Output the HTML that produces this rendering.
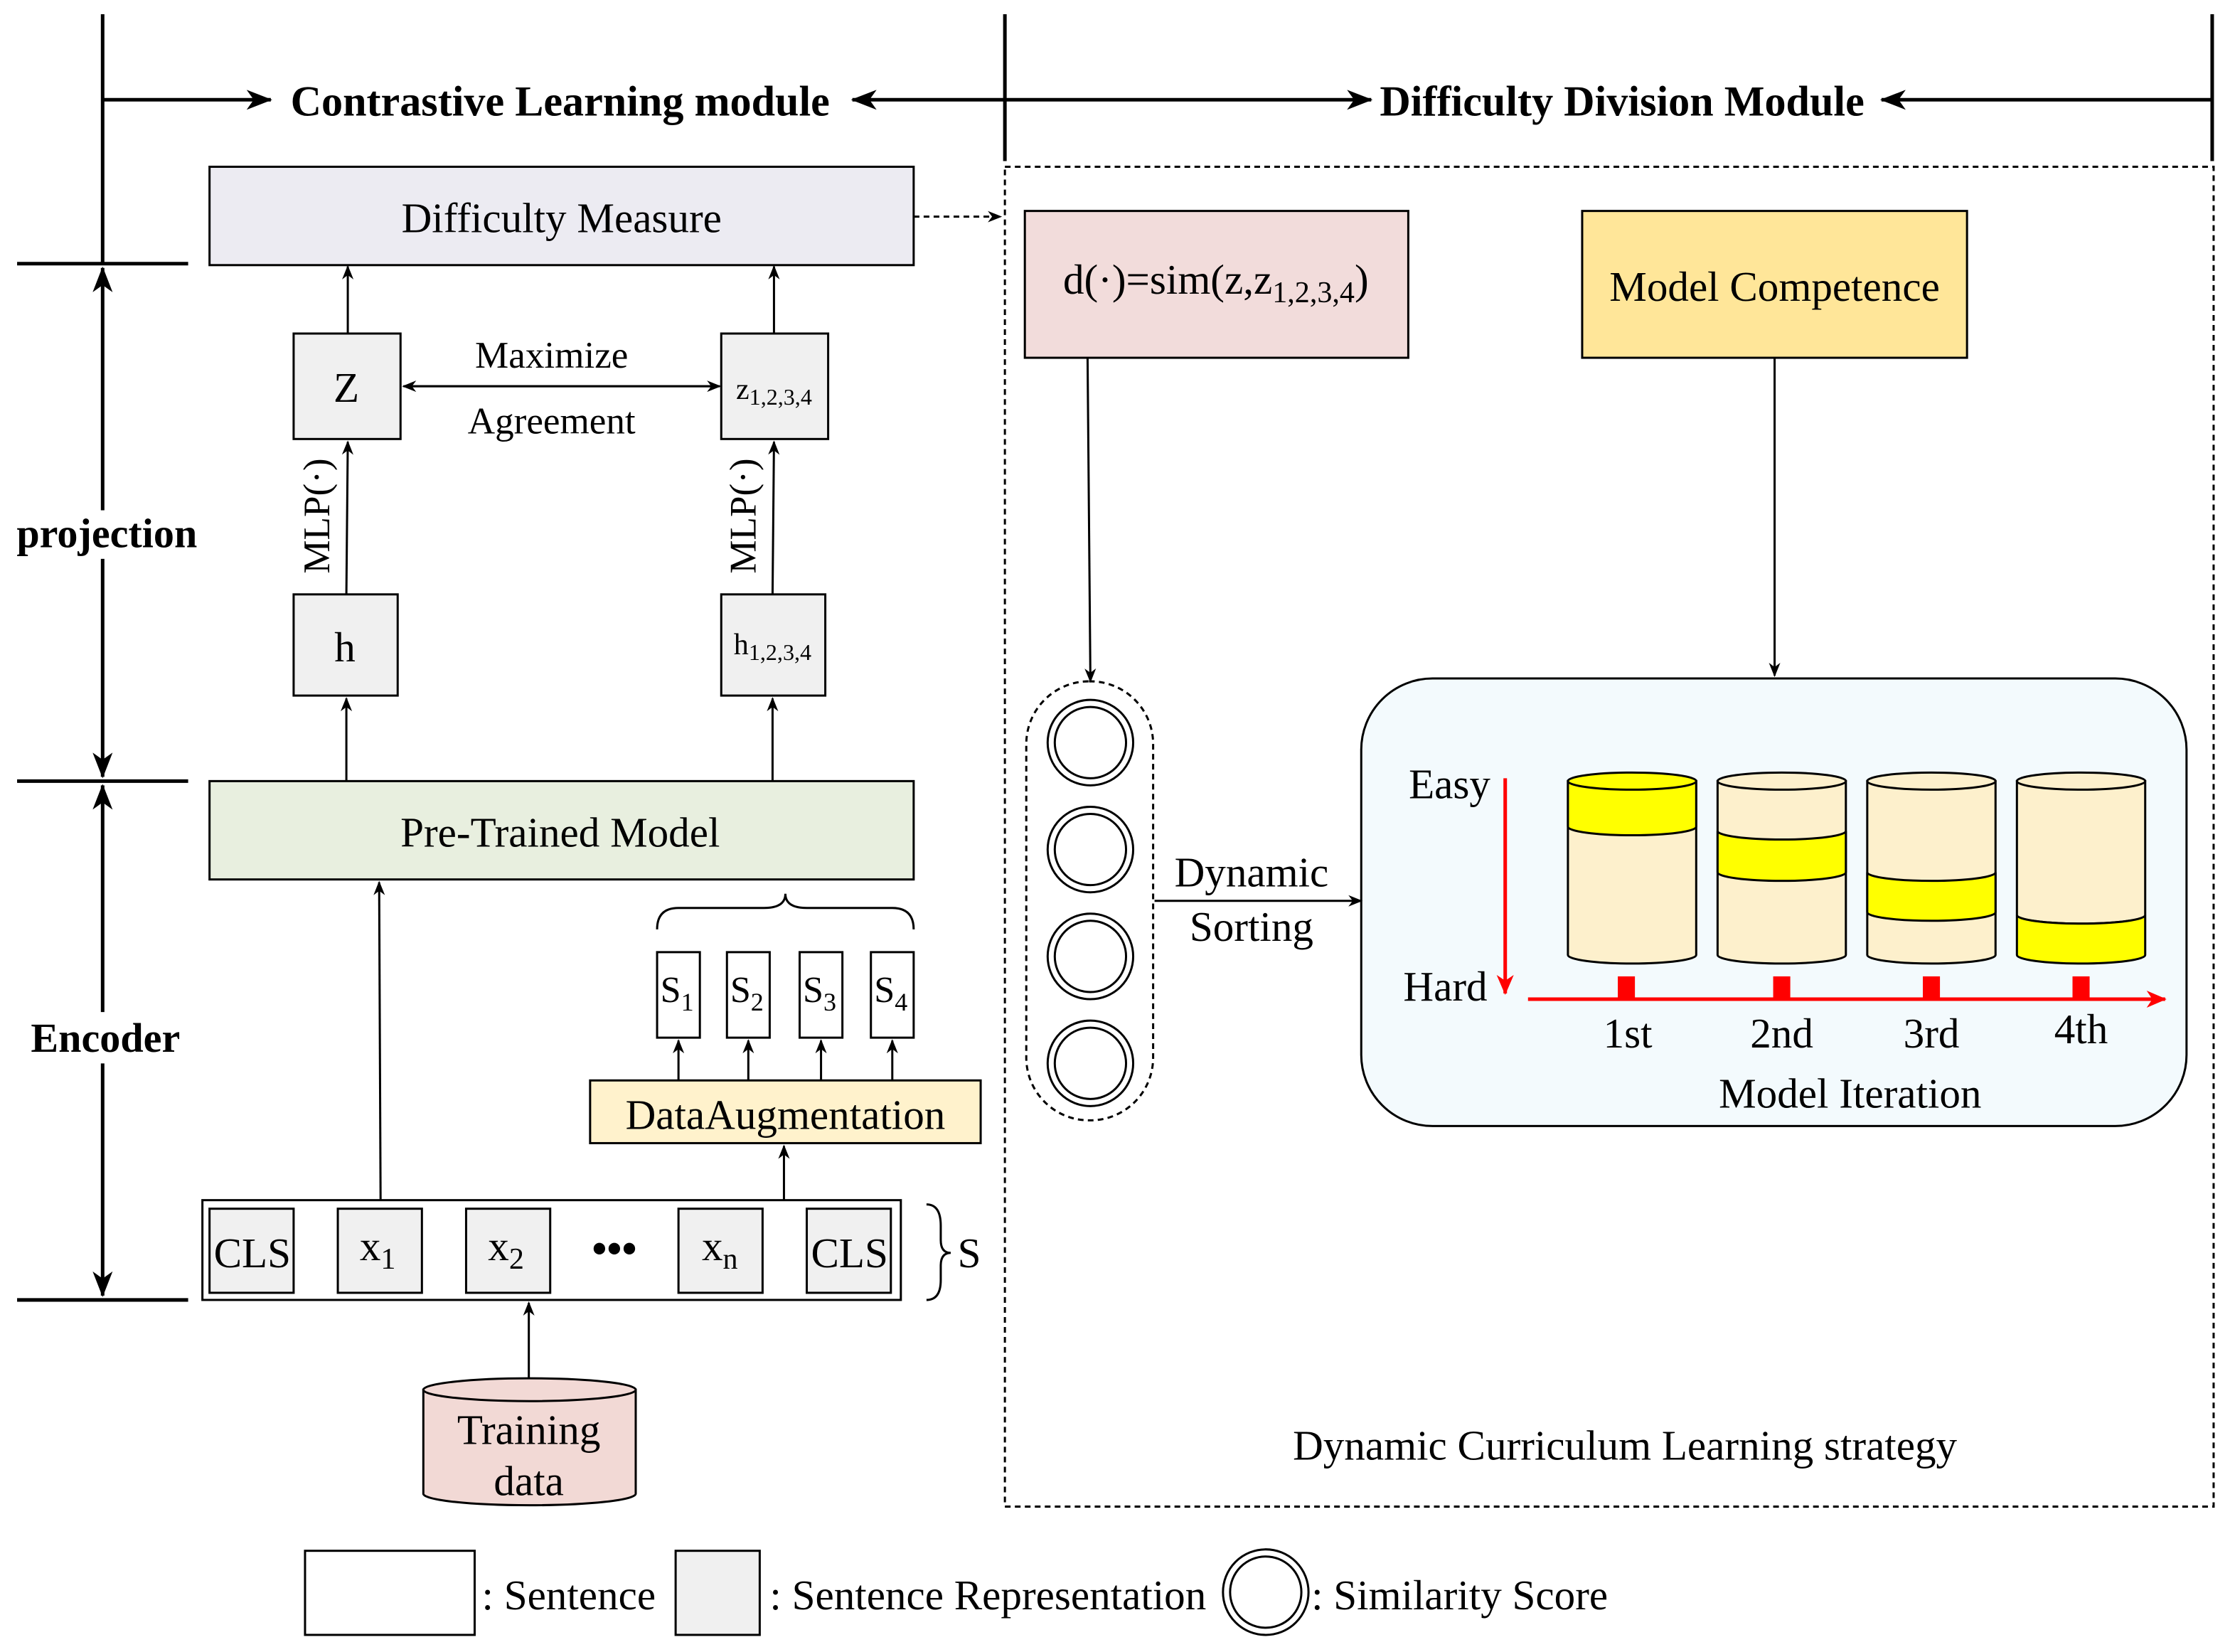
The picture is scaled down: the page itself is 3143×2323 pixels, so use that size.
<!DOCTYPE html>
<html><head><meta charset="utf-8"><style>
html,body{margin:0;padding:0;background:#fff;}
svg{display:block;}
text{font-family:"Liberation Serif",serif;fill:#000;}
</style></head><body>
<svg width="3143" height="2323" viewBox="0 0 1568 1159" preserveAspectRatio="none" xmlns="http://www.w3.org/2000/svg">
<defs>
<marker id="a" markerWidth="10" markerHeight="10" refX="9" refY="5" orient="auto" markerUnits="userSpaceOnUse"><path d="M0,1 L10,5 L0,9 L3,5 Z" fill="#000"/></marker>
<marker id="ab" markerWidth="18" markerHeight="14" refX="17" refY="7" orient="auto" markerUnits="userSpaceOnUse"><path d="M0,0 L18,7 L0,14 L5,7 Z" fill="#000"/></marker>
<marker id="ar" markerWidth="14" markerHeight="14" refX="13" refY="7" orient="auto" markerUnits="userSpaceOnUse"><path d="M0,1 L14,7 L0,13 L4,7 Z" fill="#f00"/></marker>
</defs>
<g stroke="#000" stroke-width="2.5" fill="none">
<line x1="72" y1="10" x2="72" y2="185"/>
<line x1="12" y1="185" x2="132" y2="185"/>
<line x1="12" y1="548" x2="132" y2="548"/>
<line x1="12" y1="912" x2="132" y2="912"/>
<line x1="705" y1="10" x2="705" y2="113"/>
<line x1="1552" y1="10" x2="1552" y2="113"/>
<line x1="72" y1="70" x2="190" y2="70" marker-end="url(#ab)"/>
<line x1="705" y1="70" x2="598" y2="70" marker-end="url(#ab)"/>
<line x1="705" y1="70" x2="962" y2="70" marker-end="url(#ab)"/>
<line x1="1552" y1="70" x2="1320" y2="70" marker-end="url(#ab)"/>
<line x1="72" y1="360" x2="72" y2="188" marker-end="url(#ab)"/>
<line x1="72" y1="392" x2="72" y2="545" marker-end="url(#ab)"/>
<line x1="72" y1="710" x2="72" y2="551" marker-end="url(#ab)"/>
<line x1="72" y1="746" x2="72" y2="909" marker-end="url(#ab)"/>
</g>
<text x="393" y="81" font-size="30" font-weight="bold" text-anchor="middle">Contrastive Learning module</text>
<text x="1138" y="81" font-size="30" font-weight="bold" text-anchor="middle">Difficulty Division Module</text>
<rect x="5" y="358" width="140" height="34" fill="#fff"/>
<text x="75" y="384" font-size="29" font-weight="bold" text-anchor="middle">projection</text>
<rect x="15" y="712" width="120" height="34" fill="#fff"/>
<text x="74" y="738" font-size="29" font-weight="bold" text-anchor="middle">Encoder</text>

<rect x="705" y="117" width="848" height="940" fill="none" stroke="#000" stroke-width="1.5" stroke-dasharray="4,3"/>

<g stroke="#000" stroke-width="1.5">
<rect x="147" y="117" width="494" height="69" fill="#ecebf2"/>
<rect x="206" y="234" width="75" height="74" fill="#f0f0f0"/>
<rect x="506" y="234" width="75" height="74" fill="#f0f0f0"/>
<rect x="206" y="417" width="73" height="71" fill="#f0f0f0"/>
<rect x="506" y="417" width="73" height="71" fill="#f0f0f0"/>
<rect x="147" y="548" width="494" height="69" fill="#e8efdf"/>
<rect x="461" y="668" width="30" height="60" fill="#fff"/>
<rect x="510" y="668" width="30" height="60" fill="#fff"/>
<rect x="561" y="668" width="30" height="60" fill="#fff"/>
<rect x="611" y="668" width="30" height="60" fill="#fff"/>
<rect x="414" y="758" width="274" height="44" fill="#fff2cc"/>
<rect x="142" y="842" width="490" height="70" fill="#fff"/>
<rect x="147" y="848" width="59" height="59" fill="#f0f0f0"/>
<rect x="237" y="848" width="59" height="59" fill="#f0f0f0"/>
<rect x="327" y="848" width="59" height="59" fill="#f0f0f0"/>
<rect x="476" y="848" width="59" height="59" fill="#f0f0f0"/>
<rect x="566" y="848" width="59" height="59" fill="#f0f0f0"/>
<rect x="719" y="148" width="269" height="103" fill="#f2dcdb"/>
<rect x="1110" y="148" width="270" height="103" fill="#ffe699"/>
<rect x="955" y="476" width="579" height="314" rx="50" fill="#f3fafd"/>
<rect x="214" y="1088" width="119" height="59" fill="#fff"/>
<rect x="474" y="1088" width="59" height="59" fill="#f0f0f0"/>
</g>
<g stroke="#000" stroke-width="1.5" fill="none">
<line x1="641" y1="152" x2="702" y2="152" stroke-dasharray="4,3" marker-end="url(#a)"/>
<line x1="244" y1="234" x2="244" y2="187" marker-end="url(#a)"/>
<line x1="543" y1="234" x2="543" y2="187" marker-end="url(#a)"/>
<line x1="290" y1="271" x2="505" y2="271" marker-end="url(#a)"/>
<line x1="500" y1="271" x2="283" y2="271" marker-end="url(#a)"/>
<line x1="243" y1="417" x2="244" y2="310" marker-end="url(#a)"/>
<line x1="542" y1="417" x2="543" y2="310" marker-end="url(#a)"/>
<line x1="243" y1="548" x2="243" y2="490" marker-end="url(#a)"/>
<line x1="542" y1="548" x2="542" y2="490" marker-end="url(#a)"/>
<line x1="267" y1="842" x2="266" y2="619" marker-end="url(#a)"/>
<line x1="476" y1="758" x2="476" y2="730" marker-end="url(#a)"/>
<line x1="525" y1="758" x2="525" y2="730" marker-end="url(#a)"/>
<line x1="576" y1="758" x2="576" y2="730" marker-end="url(#a)"/>
<line x1="626" y1="758" x2="626" y2="730" marker-end="url(#a)"/>
<line x1="550" y1="842" x2="550" y2="804" marker-end="url(#a)"/>
<line x1="371" y1="967" x2="371" y2="914" marker-end="url(#a)"/>
<path d="M461,652 Q461,637 476,637 L536,637 Q551,637 551,627 Q551,637 566,637 L626,637 Q641,637 641,652"/>
<path d="M650,845 Q660,845 660,860 L660,870 Q660,879 667,879 Q660,879 660,888 L660,898 Q660,912 650,912"/>
<line x1="763" y1="251" x2="765" y2="478" marker-end="url(#a)"/>
<line x1="1245" y1="251" x2="1245" y2="474" marker-end="url(#a)"/>
<line x1="810" y1="632" x2="955" y2="632" marker-end="url(#a)"/>
<rect x="720" y="478" width="89" height="308" rx="44" stroke-dasharray="4,3"/>
</g>
<g stroke="#000" stroke-width="1.5" fill="#fff">
<circle cx="765" cy="521" r="30"/><circle cx="765" cy="521" r="25"/>
<circle cx="765" cy="596" r="30"/><circle cx="765" cy="596" r="25"/>
<circle cx="765" cy="671" r="30"/><circle cx="765" cy="671" r="25"/>
<circle cx="765" cy="746" r="30"/><circle cx="765" cy="746" r="25"/>
<circle cx="888" cy="1117" r="30"/><circle cx="888" cy="1117" r="25"/>
<path d="M297,975 L297,1048 A74,8 0 0 0 446,1048 L446,975 Z" fill="#f2d9d5"/>
<ellipse cx="371.5" cy="975" rx="74.5" ry="8" fill="#f2d9d5"/>
</g>
<g stroke="#000" stroke-width="1.5">
<path d="M1100,548 L1100,670 A45,6 0 0 0 1190,670 L1190,548 Z" fill="#fdf0cc"/>
<path d="M1100,548 L1100,580 A45,6 0 0 0 1190,580 L1190,548 Z" fill="#ffff00"/>
<ellipse cx="1145" cy="548" rx="45" ry="6" fill="#ffff00"/>
<path d="M1205,548 L1205,670 A45,6 0 0 0 1295,670 L1295,548 Z" fill="#fdf0cc"/>
<path d="M1205,583 A45,6 0 0 0 1295,583 L1295,612 A45,6 0 0 1 1205,612 Z" fill="#ffff00"/>
<ellipse cx="1250" cy="548" rx="45" ry="6" fill="#fdf0cc"/>
<path d="M1310,548 L1310,670 A45,6 0 0 0 1400,670 L1400,548 Z" fill="#fdf0cc"/>
<path d="M1310,612 A45,6 0 0 0 1400,612 L1400,640 A45,6 0 0 1 1310,640 Z" fill="#ffff00"/>
<ellipse cx="1355" cy="548" rx="45" ry="6" fill="#fdf0cc"/>
<path d="M1415,548 L1415,642 A45,6 0 0 0 1505,642 L1505,548 Z" fill="#fdf0cc"/>
<path d="M1415,642 A45,6 0 0 0 1505,642 L1505,670 A45,6 0 0 1 1415,670 Z" fill="#ffff00"/>
<ellipse cx="1460" cy="548" rx="45" ry="6" fill="#fdf0cc"/>
</g>
<g stroke="#f00" stroke-width="2.5">
<line x1="1056" y1="546" x2="1056" y2="697" marker-end="url(#ar)"/>
<line x1="1072" y1="701" x2="1519" y2="701" marker-end="url(#ar)"/>
</g>
<g fill="#f00">
<rect x="1135" y="685" width="12" height="15"/><rect x="1244" y="685" width="12" height="15"/>
<rect x="1349" y="685" width="12" height="15"/><rect x="1454" y="685" width="12" height="15"/>
</g>
<g font-size="29.5" text-anchor="middle">
<text x="394" y="163">Difficulty Measure</text>
<text x="243" y="282">Z</text>
<text x="543" y="280" font-size="21">z<tspan font-size="16" dy="4">1,2,3,4</tspan></text>
<text x="387" y="258" font-size="26.5">Maximize</text>
<text x="387" y="304" font-size="26.5">Agreement</text>
<text x="242" y="464">h</text>
<text x="542" y="459" font-size="21">h<tspan font-size="16" dy="4">1,2,3,4</tspan></text>
<text transform="translate(231,362) rotate(-90)" font-size="26.5">MLP(·)</text>
<text transform="translate(530,362) rotate(-90)" font-size="26.5">MLP(·)</text>
<text x="393" y="594">Pre-Trained Model</text>
<text x="475" y="703" font-size="26">S<tspan font-size="18" dy="6">1</tspan></text>
<text x="524" y="703" font-size="26">S<tspan font-size="18" dy="6">2</tspan></text>
<text x="575" y="703" font-size="26">S<tspan font-size="18" dy="6">3</tspan></text>
<text x="625" y="703" font-size="26">S<tspan font-size="18" dy="6">4</tspan></text>
<text x="551" y="792">DataAugmentation</text>
<text x="177" y="889">CLS</text>
<text x="265" y="884">x<tspan font-size="21" dy="6">1</tspan></text>
<text x="355" y="884">x<tspan font-size="21" dy="6">2</tspan></text>
<text x="431" y="886" font-size="30" font-weight="bold">•••</text>
<text x="505" y="884">x<tspan font-size="21" dy="6">n</tspan></text>
<text x="596" y="889">CLS</text>
<text x="680" y="889">S</text>
<text x="371" y="1013">Training</text>
<text x="371" y="1049">data</text>
<text x="853" y="206">d(·)=sim(z,z<tspan font-size="21" dy="6">1,2,3,4</tspan><tspan dy="-6">)</tspan></text>
<text x="1245" y="211">Model Competence</text>
<text x="878" y="622">Dynamic</text>
<text x="878" y="660">Sorting</text>
<text x="1017" y="560">Easy</text>
<text x="1014" y="702">Hard</text>
<text x="1142" y="735">1st</text>
<text x="1250" y="735">2nd</text>
<text x="1355" y="735">3rd</text>
<text x="1460" y="732">4th</text>
<text x="1298" y="777">Model Iteration</text>
<text x="1140" y="1024">Dynamic Curriculum Learning strategy</text>
</g>
<g font-size="29.5">
<text x="338" y="1129">: Sentence</text>
<text x="540" y="1129">: Sentence Representation</text>
<text x="920" y="1129">: Similarity Score</text>
</g>
</svg>
</body></html>
